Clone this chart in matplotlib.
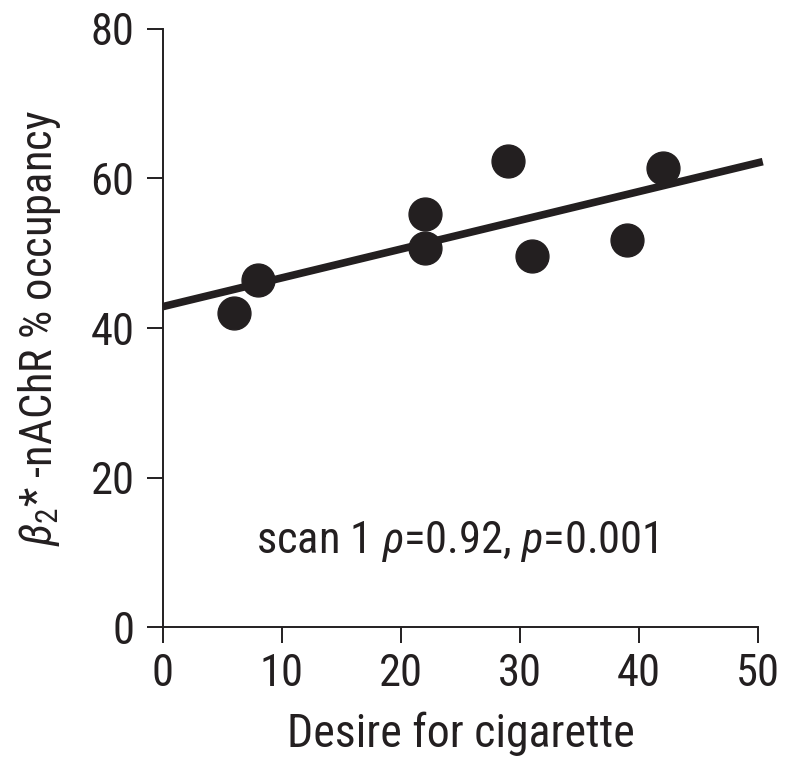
import numpy as np
import matplotlib
matplotlib.use('Agg')
import matplotlib.pyplot as plt
from matplotlib import font_manager

# desire for cigarette vs beta2*-nAChR occupancy (scan 1)
desire = [6, 8, 22, 22, 29, 31, 39, 42]
occupancy = [42.0, 46.4, 55.3, 50.7, 62.3, 49.6, 51.8, 61.4]
x_ticks = [0, 10, 20, 30, 40, 50]
y_ticks = [0, 20, 40, 60, 80]
annotation = r'scan 1 $\rho$=0.92, $p$=0.001'

names = {f.name for f in font_manager.fontManager.ttflist}
fam = [n for n in ['Liberation Sans Narrow', 'Roboto Condensed', 'Liberation Sans'] if n in names]
plt.rcParams['font.family'] = fam + ['DejaVu Sans']
plt.rcParams['mathtext.fontset'] = 'custom'
plt.rcParams['mathtext.rm'] = fam[0] if fam else 'DejaVu Sans'
plt.rcParams['mathtext.it'] = (fam[0] if fam else 'DejaVu Sans') + ':italic'

ink = '#231f20'
fig = plt.figure(figsize=(7.85, 7.62), dpi=100)
ax = fig.add_axes([0.2076, 0.177, 0.758, 0.785])

ax.scatter(desire, occupancy, s=560, color=ink, zorder=3, clip_on=False)

slope, intercept = np.polyfit(desire, occupancy, 1)
xs = np.array([0, 50.4])
ax.plot(xs, intercept + slope * xs, color=ink, lw=5.5, clip_on=False,
        solid_capstyle='butt')

ax.set_xlim(0, 50)
ax.set_ylim(0, 80)
ax.set_xticks(x_ticks)
ax.set_yticks(y_ticks)
for s in ['top', 'right']:
    ax.spines[s].set_visible(False)
for s in ['left', 'bottom']:
    ax.spines[s].set_linewidth(1.4)
    ax.spines[s].set_color(ink)
ax.tick_params(direction='out', length=11.5, width=1.4, color=ink,
               labelsize=32, labelcolor=ink, pad=7)
ax.tick_params(axis='y', pad=9)

ax.set_xlabel('Desire for cigarette', fontsize=33, color=ink, labelpad=12)
ax.set_ylabel(r'$\beta_2$* -nAChR % occupancy', fontsize=32, color=ink, labelpad=20)
ax.text(24.7, 11.5, annotation, fontsize=32, color=ink, ha='center', va='center')

fig.savefig('out.png', dpi=100)
